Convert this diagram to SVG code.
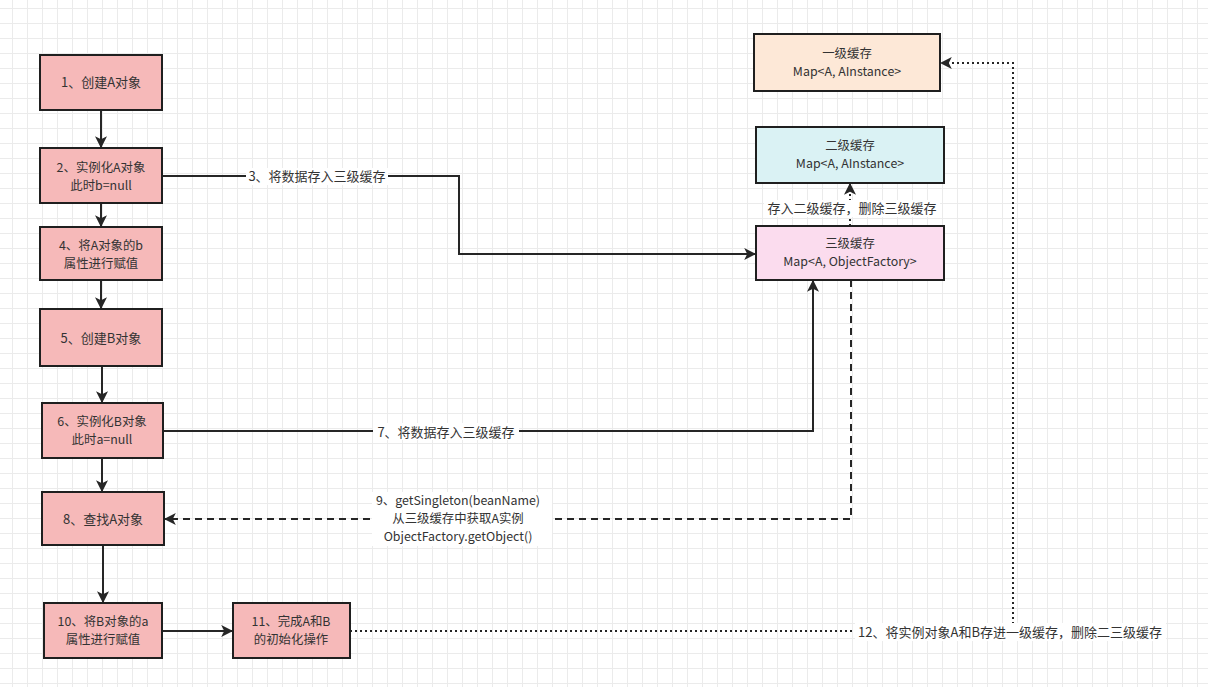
<svg xmlns="http://www.w3.org/2000/svg" width="1208" height="687" viewBox="0 0 1208 687">
<defs>
  <pattern id="grid" patternUnits="userSpaceOnUse" x="12" y="8" width="15" height="15">
    <path d="M0 0.5 H15 M0.5 0 V15" stroke="#ebebeb" stroke-width="1" fill="none"/>
  </pattern>
  <marker id="arr2" viewBox="0 0 10 10" refX="9" refY="5" markerWidth="12" markerHeight="12" markerUnits="userSpaceOnUse" orient="auto">
    <path d="M0 0 L10 5 L0 10 L2.5 5 Z" fill="#262626"/>
  </marker>
</defs>
<style>
  .n { stroke: #1f1f1f; stroke-width: 2; }
  .pk { fill: #f6b9b9; }
  .t { font-family: "Noto Sans CJK SC", "Liberation Sans", sans-serif; font-size: 13px; fill: #333; text-anchor: middle; }
  .m { font-size: 12.4px; }
  .e { fill: none; stroke: #262626; stroke-width: 2; }
  .solid { marker-end: url(#arr2); }
  .dash { stroke-dasharray: 7 5; marker-end: url(#arr2); }
  .dot { stroke-dasharray: 2 3; marker-end: url(#arr2); }
  .lb { fill: #ffffff; }
</style>
<rect width="1208" height="687" fill="#ffffff"/>
<rect width="1208" height="687" fill="url(#grid)"/>

<g id="connectors">
  <path class="e solid" d="M101 110 V147"/>
  <path class="e solid" d="M101 203 V226"/>
  <path class="e solid" d="M101 280 V308"/>
  <path class="e solid" d="M102 366 V402"/>
  <path class="e solid" d="M102 458 V491"/>
  <path class="e solid" d="M103 545 V602"/>
  <path class="e solid" d="M162 631 H232"/>
  <path class="e solid" d="M162 176 H459 V254 H755"/>
  <rect class="lb" x="246" y="168" width="142" height="17"/>
  <text class="t" x="317" y="181">3、将数据存入三级缓存</text>
  <path class="e solid" d="M163 431 H813 V281"/>
  <rect class="lb" x="373" y="423" width="146" height="17"/>
  <text class="t" x="446" y="437">7、将数据存入三级缓存</text>
  <path class="e dash" d="M851 280 V519 H165"/>
  <rect class="lb" x="372" y="492" width="180" height="54"/>
  <text class="t m" x="458" y="505"><tspan x="458">9、getSingleton(beanName)</tspan><tspan x="458" dy="18">从三级缓存中获取A实例</tspan><tspan x="458" dy="18">ObjectFactory.getObject()</tspan></text>
  <path class="e dot" d="M850 226 V184"/>
  <rect class="lb" x="764" y="200" width="176" height="17"/>
  <text class="t" x="852" y="213">存入二级缓存，删除三级缓存</text>
  <path class="e dot" d="M350 631 H1013 V63 H941"/>
  <rect class="lb" x="855" y="623" width="311" height="18"/>
  <text class="t" x="1010" y="637">12、将实例对象A和B存进一级缓存，删除二三级缓存</text>
</g>

<g id="n1"><rect class="n pk" x="40" y="55" width="122" height="55"/><text class="t" x="101" y="87">1、创建A对象</text></g>
<g id="n2"><rect class="n pk" x="40" y="148" width="122" height="55"/><text class="t m" x="101" y="172"><tspan x="101">2、实例化A对象</tspan><tspan x="101" dy="18">此时b=null</tspan></text></g>
<g id="n4"><rect class="n pk" x="40" y="227" width="122" height="53"/><text class="t m" x="101" y="250"><tspan x="101">4、将A对象的b</tspan><tspan x="101" dy="18">属性进行赋值</tspan></text></g>
<g id="n5"><rect class="n pk" x="40" y="309" width="122" height="57"/><text class="t" x="101" y="343">5、创建B对象</text></g>
<g id="n6"><rect class="n pk" x="42" y="403" width="121" height="55"/><text class="t m" x="102" y="426"><tspan x="102">6、实例化B对象</tspan><tspan x="102" dy="18">此时a=null</tspan></text></g>
<g id="n8"><rect class="n pk" x="42" y="492" width="122" height="53"/><text class="t" x="103" y="524">8、查找A对象</text></g>
<g id="n10"><rect class="n pk" x="44" y="603" width="118" height="55"/><text class="t m" x="103" y="626"><tspan x="103">10、将B对象的a</tspan><tspan x="103" dy="18">属性进行赋值</tspan></text></g>
<g id="n11"><rect class="n pk" x="233" y="603" width="117" height="55"/><text class="t m" x="291" y="626"><tspan x="291">11、完成A和B</tspan><tspan x="291" dy="18">的初始化操作</tspan></text></g>
<g id="c1"><rect class="n" fill="#fde8d7" x="754" y="34" width="186" height="57"/><text class="t m" x="847" y="58"><tspan x="847">一级缓存</tspan><tspan x="847" dy="18">Map&lt;A, AInstance&gt;</tspan></text></g>
<g id="c2"><rect class="n" fill="#daf2f4" x="756" y="127" width="188" height="56"/><text class="t m" x="850" y="150"><tspan x="850">二级缓存</tspan><tspan x="850" dy="18">Map&lt;A, AInstance&gt;</tspan></text></g>
<g id="c3"><rect class="n" fill="#fbdcee" x="756" y="226" width="188" height="54"/><text class="t m" x="850" y="248"><tspan x="850">三级缓存</tspan><tspan x="850" dy="18">Map&lt;A, ObjectFactory&gt;</tspan></text></g>
</svg>
